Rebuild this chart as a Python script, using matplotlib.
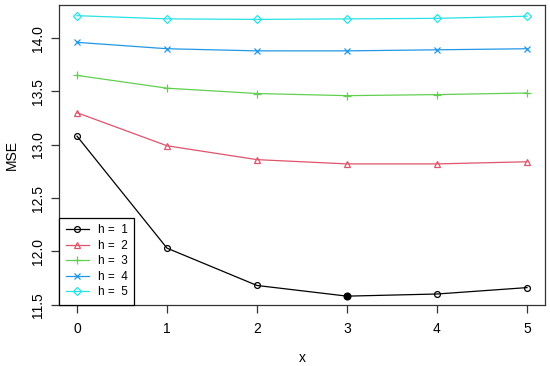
import numpy as np
import matplotlib.pyplot as plt

plt.rcParams['font.family'] = ['Liberation Sans', 'DejaVu Sans']

x = [0, 1, 2, 3, 4, 5]
mse_h1 = [13.08, 12.03, 11.68, 11.58, 11.60, 11.66]
mse_h2 = [13.30, 12.99, 12.86, 12.82, 12.82, 12.84]
mse_h3 = [13.65, 13.53, 13.48, 13.46, 13.47, 13.485]
mse_h4 = [13.96, 13.90, 13.88, 13.88, 13.89, 13.90]
mse_h5 = [14.21, 14.18, 14.175, 14.18, 14.185, 14.205]
labels = ["h =  1", "h =  2", "h =  3", "h =  4", "h =  5"]
best_x = 3

series = [mse_h1, mse_h2, mse_h3, mse_h4, mse_h5]
colors = ["#000000", "#DF536B", "#61D04F", "#2297E6", "#28E2E5"]
markers = ["o", "^", "+", "x", "D"]
msizes = [4.2, 5, 6, 4.8, 4.2]

fig = plt.figure(figsize=(5.5, 3.66), dpi=100)
ax = fig.add_axes([0.1073, 0.1667, 0.8836, 0.8196])

for ys, c, m, ms, lab in zip(series, colors, markers, msizes, labels):
    filled = m in ("+", "x")
    ax.plot(x, ys, color=c, lw=0.9, marker=m, ms=ms, mew=0.9,
            mfc=c if filled else "none", mec=c, label=lab)

# minimum highlighted
ax.plot(best_x, mse_h1[best_x], "o", color="black", ms=4.8)

ax.set_xlim(-0.2, 5.2)
ax.set_ylim(11.497, 14.31)
ax.set_xticks(x)
ax.set_yticks([11.5, 12.0, 12.5, 13.0, 13.5, 14.0])
ax.set_yticklabels(["11.5", "12.0", "12.5", "13.0", "13.5", "14.0"],
                   rotation=90, va="center")
ax.tick_params(direction="out", length=6, width=0.9, labelsize=10,
               colors="#333333", labelcolor="black")
ax.tick_params(axis="x", pad=6)
ax.tick_params(axis="y", pad=4)
for s in ax.spines.values():
    s.set_linewidth(0.9)
    s.set_color("#333333")

ax.set_xlabel("x", fontsize=10, labelpad=11)
ax.set_ylabel("MSE", fontsize=10, labelpad=9)

leg = ax.legend(loc="lower left", bbox_to_anchor=(0, 0), borderaxespad=0,
                fancybox=False, edgecolor="black", framealpha=1,
                fontsize=8.5, handlelength=2.0, labelspacing=0.3,
                borderpad=0.55, handletextpad=0.75)
leg.get_frame().set_linewidth(0.9)

fig.savefig("out.png", dpi=100)
